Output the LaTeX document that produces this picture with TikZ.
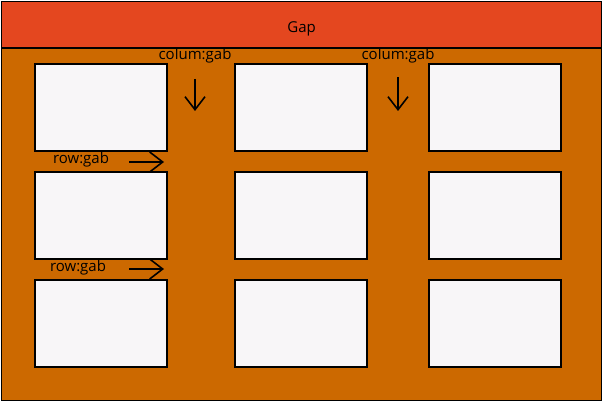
\documentclass[tikz,border=0pt]{standalone}
\usepackage{fontspec}
\setmainfont{Open Sans}
\usetikzlibrary{arrows.meta}
\definecolor{gapred}{HTML}{E4471F}
\definecolor{gridorange}{HTML}{CC6900}
\definecolor{cellwhite}{HTML}{F8F6F8}
\tikzset{
  cellbox/.style={draw,fill=cellwhite,line width=1.2pt,minimum width=132pt,minimum height=87pt,inner sep=0pt},
  gablabel/.style={font=\fontsize{15}{17}\selectfont,inner sep=0pt,anchor=base},
  gaparrow/.style={->,line width=1.6pt}
}
\begin{document}
\begin{tikzpicture}[x=1pt,y=-1pt,>={Straight Barb[length=13pt,width=20pt]}]
\useasboundingbox (0,0) rectangle (602,401);
% header and container
\node[draw,fill=gapred,line width=1.2pt,minimum width=600pt,minimum height=46pt,inner sep=0pt,anchor=north west,
  text height=16.6pt,text depth=0pt,font=\fontsize{15}{17}\selectfont] (header) at (1,1) {Gap};
\node[draw,fill=gridorange,line width=1.2pt,minimum width=600pt,minimum height=352pt,inner sep=0pt,anchor=north west] (grid) at (1,48) {};
% cells
\foreach \cx/\c in {101/1,301/2,495/3}{
  \foreach \cy/\r in {107.5/1,215.5/2,323.5/3}{
    \node[cellbox] (cell\r\c) at (\cx,\cy) {};
  }
}
% column gaps
\node[gablabel] (colgab1) at (195,59.7) {colum:gab};
\node[gablabel] (colgab2) at (398,59.7) {colum:gab};
\coordinate (colstart1) at (195,79);
\coordinate (colend1) at (195,111);
\coordinate (colstart2) at (398,77);
\coordinate (colend2) at (398,111);
\draw[gaparrow] (colstart1) -- (colend1);
\draw[gaparrow] (colstart2) -- (colend2);
% row gaps
\node[gablabel] (rowgab1) at (81,163.3) {row:gab};
\node[gablabel] (rowgab2) at (78,271.5) {row:gab};
\coordinate (rowstart1) at (129,162);
\coordinate (rowend1) at (164,162);
\coordinate (rowstart2) at (129,269);
\coordinate (rowend2) at (164,269);
\draw[gaparrow] (rowstart1) -- (rowend1);
\draw[gaparrow] (rowstart2) -- (rowend2);
\end{tikzpicture}
\end{document}
